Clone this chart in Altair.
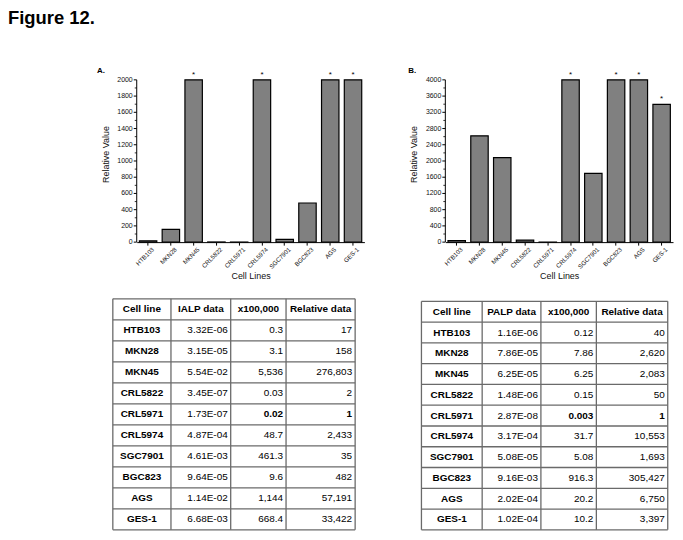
import altair as alt
import pandas as pd

FONT = "Liberation Sans"
W, H = 670, 524

# ---------------- data ----------------
cells = ["HTB103", "MKN28", "MKN45", "CRL5822", "CRL5971",
         "CRL5974", "SGC7901", "BGC823", "AGS", "GES-1"]

ialp_data = ["3.32E-06", "3.15E-05", "5.54E-02", "3.45E-07", "1.73E-07",
             "4.87E-04", "4.61E-03", "9.64E-05", "1.14E-02", "6.68E-03"]
ialp_x100k = ["0.3", "3.1", "5,536", "0.03", "0.02",
              "48.7", "461.3", "9.6", "1,144", "668.4"]
ialp_relative = [17, 158, 276803, 2, 1, 2433, 35, 482, 57191, 33422]
ialp_star = [False, False, True, False, False, True, False, False, True, True]

palp_data = ["1.16E-06", "7.86E-05", "6.25E-05", "1.48E-06", "2.87E-08",
             "3.17E-04", "5.08E-05", "9.16E-03", "2.02E-04", "1.02E-04"]
palp_x100k = ["0.12", "7.86", "6.25", "0.15", "0.003",
              "31.7", "5.08", "916.3", "20.2", "10.2"]
palp_relative = [40, 2620, 2083, 50, 1, 10553, 1693, 305427, 6750, 3397]
palp_star = [False, False, False, False, False, True, False, True, True, True]

reference_row = "CRL5971"   # shown bold in the tables

headers_A = ["Cell line", "IALP data", "x100,000", "Relative data"]
headers_B = ["Cell line", "PALP data", "x100,000", "Relative data"]

yticks_A = [0, 200, 400, 600, 800, 1000, 1200, 1400, 1600, 1800, 2000]
yminor_A = [100, 300, 500, 700, 900, 1100, 1300, 1500, 1700, 1900]
yticks_B = [0, 400, 800, 1200, 1600, 2000, 2400, 2800, 3200, 3600, 4000]
yminor_B = [200, 600, 1000, 1400, 1800, 2200, 2600, 3000, 3400, 3800]

dummy = pd.DataFrame({"a": [0]})

# ---------------- bar panels ----------------
Y0, Y1 = 234, 71
TXT = "#111"


def bar_panel(rel, stars, ymax, ticks, minor, ax_x, x_end):
    df = pd.DataFrame({"cell": cells, "value": rel,
                       "star": ["*" if s else "" for s in stars]})
    xs = alt.Scale(domain=cells, range=[ax_x, x_end],
                   paddingInner=0.235, paddingOuter=0.1175)
    ys = alt.Scale(domain=[0, ymax], range=[Y0, Y1], clamp=True,
                   nice=False, zero=True)
    xaxis = alt.Axis(orient="bottom", offset=Y0 - H, title="Cell Lines",
                     labelAngle=-45, labelAlign="right", labelBaseline="middle",
                     labelOffset=5, labelPadding=3,
                     labelFont=FONT, labelFontSize=6.2, labelColor=TXT,
                     tickSize=3, tickColor="black", domainColor="black",
                     titleFont=FONT, titleFontSize=9, titleFontWeight="normal",
                     titleColor=TXT, titleY=34, titleBaseline="middle",
                     grid=False)
    base = alt.Chart(df).encode(
        x=alt.X("cell:N", sort=cells, scale=xs, axis=xaxis),
        y=alt.Y("value:Q", scale=ys, axis=None),
    )
    bars = base.mark_bar(fill="#808080", stroke="black", strokeWidth=1.2)
    star = base.mark_text(font=FONT, fontSize=8, color="black",
                          baseline="alphabetic", dy=-3).encode(text="star:N")

    # y axis drawn through the same y scale
    tdf = pd.DataFrame({"t": ticks})
    mdf = pd.DataFrame({"m": minor})
    domain = alt.Chart(dummy).mark_rule(color="black", strokeWidth=1).encode(
        x=alt.value(ax_x), y=alt.value(Y0), y2=alt.value(Y1))
    major = alt.Chart(tdf).mark_rule(color="black", strokeWidth=1).encode(
        y=alt.Y("t:Q", scale=ys, axis=None),
        x=alt.value(ax_x - 3), x2=alt.value(ax_x))
    minor_ticks = alt.Chart(mdf).mark_rule(color="black", strokeWidth=0.8).encode(
        y=alt.Y("m:Q", scale=ys, axis=None),
        x=alt.value(ax_x - 2), x2=alt.value(ax_x))
    labels = alt.Chart(tdf).mark_text(font=FONT, fontSize=7, color=TXT,
                                      align="right", baseline="middle").encode(
        y=alt.Y("t:Q", scale=ys, axis=None),
        x=alt.value(ax_x - 4),
        text=alt.Text("t:Q", format="d"))
    ytitle = alt.Chart(dummy).mark_text(
        text="Relative Value", font=FONT, fontSize=9, color=TXT, angle=270,
        align="center", baseline="middle").encode(
        x=alt.value(ax_x - 31), y=alt.value(146))
    return alt.layer(bars, star, domain, major, minor_ticks, labels, ytitle)


# ---------------- tables ----------------
LINE = "#6a6a6a"


def table(headers, data_col, x100k_col, rel, edges, y_top, y_bot):
    rows = ["hdr"] + cells
    ys = alt.Scale(domain=rows, range=[y_top, y_bot], paddingInner=0,
                   paddingOuter=0)
    recs = []
    for i, h in enumerate(headers):
        recs.append(dict(row="hdr", col=i, t=h, bold=True, al="center"))
    for k, cell in enumerate(cells):
        vals = [cell, data_col[k], x100k_col[k], f"{rel[k]:,}"]
        for i, v in enumerate(vals):
            bold = (i == 0) or (cell == reference_row and i >= 2)
            recs.append(dict(row=cell, col=i, t=v, bold=bold,
                             al="center" if i == 0 else "right"))
    df = pd.DataFrame(recs)
    layers = []
    for i in range(4):
        for b in (True, False):
            for al in ("center", "right"):
                sub = df[(df.col == i) & (df.bold == b) & (df.al == al)]
                if len(sub) == 0:
                    continue
                xpos = (edges[i] + edges[i + 1]) / 2 if al == "center" else edges[i + 1] - 3
                layers.append(
                    alt.Chart(sub).mark_text(
                        font=FONT, fontSize=10, color="black", align=al,
                        baseline="middle",
                        fontWeight="bold" if b else "normal",
                    ).encode(
                        y=alt.Y("row:N", sort=rows, scale=ys, axis=None),
                        x=alt.value(xpos),
                        text="t:N",
                    )
                )
    hl = alt.Chart(pd.DataFrame({"row": rows})).mark_rule(
        color=LINE, strokeWidth=1.3).encode(
        y=alt.Y("row:N", sort=rows, scale=ys, axis=None, bandPosition=0),
        x=alt.value(edges[0]), x2=alt.value(edges[-1]),
    )
    layers.append(hl)
    layers.append(alt.Chart(dummy).mark_rule(color=LINE, strokeWidth=1.3).encode(
        x=alt.value(edges[0]), x2=alt.value(edges[-1]), y=alt.value(y_bot)))
    for e in edges:
        layers.append(alt.Chart(dummy).mark_rule(color=LINE, strokeWidth=1.3).encode(
            x=alt.value(e), y=alt.value(y_top), y2=alt.value(y_bot)))
    return alt.layer(*layers)


panelA = bar_panel(ialp_relative, ialp_star, 2000, yticks_A, yminor_A, 129.3, 358)
panelB = bar_panel(palp_relative, palp_star, 4000, yticks_B, yminor_B, 439.3, 668)

tableA = table(headers_A, ialp_data, ialp_x100k, ialp_relative,
               [105.3, 163.7, 223.7, 279.3, 348.7], 291, 523)
tableB = table(headers_B, palp_data, palp_x100k, palp_relative,
               [415.3, 476.3, 535.3, 591, 662.7], 293.5, 523)


def label(txt, x, y, size, baseline="alphabetic"):
    return alt.Chart(dummy).mark_text(
        text=txt, font=FONT, fontSize=size, fontWeight="bold", color="black",
        align="left", baseline=baseline).encode(x=alt.value(x), y=alt.value(y))


fig_title = label("Figure 12.", 0, 0, 18.5, baseline="top")
lab_A = label("A.", 89.3, 64, 8)
lab_B = label("B.", 402, 64, 8)

chart = alt.layer(panelA, panelB, tableA, tableB, fig_title, lab_A, lab_B).resolve_scale(
    x="independent", y="independent"
).resolve_axis(
    x="independent", y="independent"
).properties(
    width=W, height=H, padding=0, background="white",
    autosize=alt.AutoSizeParams(type="none"),
).configure_view(stroke=None)

chart.save("out.html", embed_options={"renderer": "svg", "actions": False})
